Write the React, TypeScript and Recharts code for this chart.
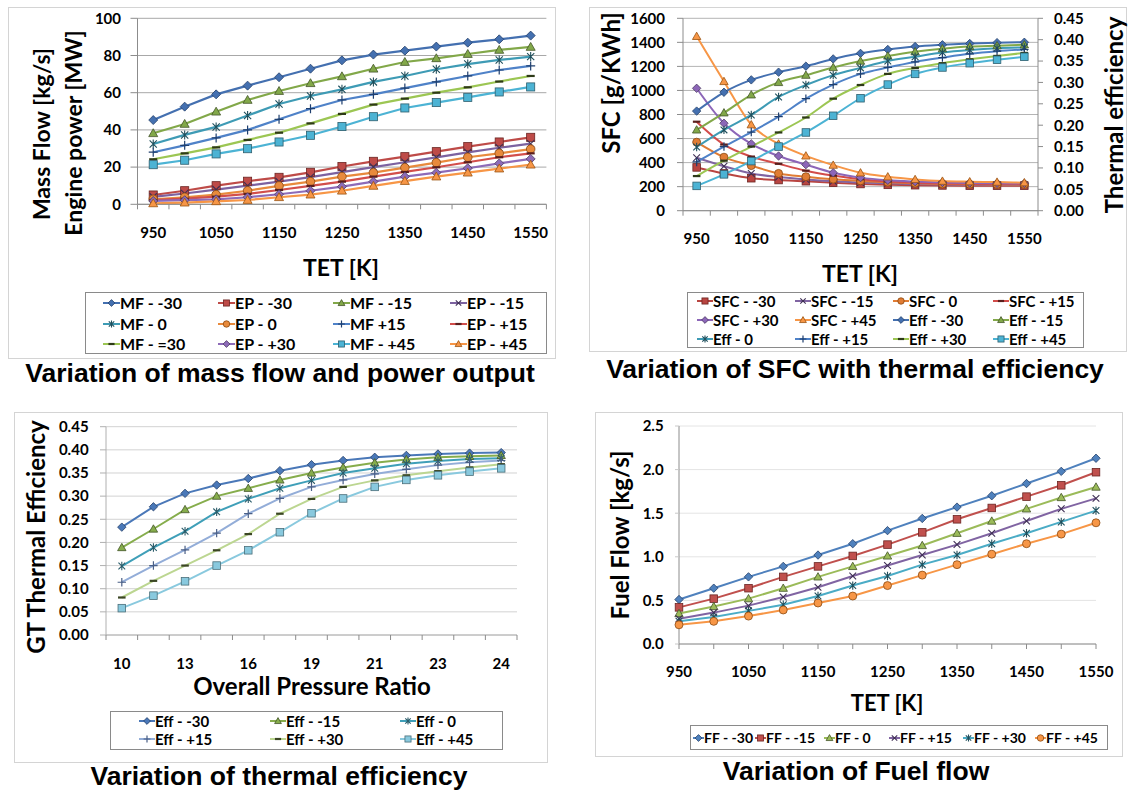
import React from "react";
import { LineChart, Line, XAxis, YAxis, CartesianGrid } from "recharts";

// ---- categories ----
const tet = [950, 1000, 1050, 1100, 1150, 1200, 1250, 1300, 1350, 1400, 1450, 1500, 1550];
const pressureRatio = ["10", "11.5", "13", "14.5", "16", "17.5", "19", "20", "21", "22", "23", "23.5", "24"];

// ---- mass flow [kg/s] and engine power [MW] ----
const mfM30 = [45.3, 52.5, 59.1, 63.8, 68.3, 72.9, 77.4, 80.5, 82.6, 84.8, 86.9, 88.7, 90.7];
const epM30 = [5.0, 7.3, 10.0, 12.4, 14.5, 17.2, 20.3, 23.1, 25.6, 28.3, 31.0, 33.5, 36.0];
const mfM15 = [38.2, 43.2, 49.8, 56.1, 60.9, 65.1, 68.8, 72.9, 76.5, 78.5, 80.8, 83.0, 84.6];
const epM15 = [4.0, 5.8, 7.9, 10.0, 12.2, 14.6, 17.3, 20.0, 22.6, 25.2, 27.9, 30.4, 32.6];
const mf0 = [32.4, 37.3, 41.6, 47.7, 53.9, 58.2, 61.8, 65.8, 69.0, 72.6, 75.4, 77.6, 79.4];
const ep0 = [2.7, 3.8, 5.2, 7.3, 9.9, 12.2, 14.9, 17.0, 19.7, 22.4, 25.3, 27.4, 29.7];
const mfP15 = [28.0, 31.7, 35.7, 40.0, 45.7, 51.4, 56.1, 59.1, 62.5, 65.8, 69.0, 72.2, 74.4];
const epP15 = [2.3, 3.0, 4.1, 5.6, 7.7, 9.9, 12.2, 14.9, 17.4, 19.9, 22.6, 25.3, 27.4];
const mfP30 = [24.2, 27.4, 30.6, 34.6, 38.5, 43.5, 48.6, 53.6, 56.8, 60.0, 62.9, 66.0, 69.0];
const epP30 = [1.8, 2.2, 2.7, 3.8, 5.4, 7.3, 9.5, 12.2, 14.9, 17.0, 19.4, 22.0, 24.4];
const mfP45 = [21.3, 23.7, 27.1, 29.9, 33.5, 37.1, 41.8, 47.1, 51.8, 54.7, 57.5, 60.4, 63.1];
const epP45 = [0.5, 0.9, 1.6, 2.3, 3.8, 5.2, 7.3, 9.9, 12.5, 14.9, 17.0, 19.2, 21.3];

// ---- SFC [g/kWh] ----
const sfcM30 = [360, 310, 270, 255, 245, 232, 222, 215, 212, 210, 208, 208, 208];
const sfcM15 = [440, 370, 310, 280, 260, 245, 235, 228, 222, 218, 216, 215, 215];
const sfc0 = [570, 445, 375, 310, 283, 262, 248, 237, 228, 222, 220, 218, 218];
const sfcP15 = [740, 550, 450, 390, 333, 292, 262, 243, 233, 227, 224, 222, 222];
const sfcP30 = [1018, 727, 556, 455, 383, 316, 275, 253, 242, 235, 230, 228, 227];
const sfcP45 = [1450, 1075, 715, 555, 456, 379, 315, 282, 260, 246, 241, 238, 233];

// ---- thermal efficiency ----
const effM30 = [0.233, 0.277, 0.306, 0.324, 0.338, 0.355, 0.368, 0.377, 0.384, 0.388, 0.391, 0.393, 0.394];
const effM15 = [0.189, 0.229, 0.271, 0.3, 0.317, 0.335, 0.35, 0.362, 0.372, 0.379, 0.384, 0.386, 0.388];
const eff0 = [0.149, 0.189, 0.224, 0.266, 0.294, 0.317, 0.334, 0.35, 0.36, 0.37, 0.376, 0.38, 0.382];
const effP15 = [0.114, 0.15, 0.184, 0.22, 0.262, 0.295, 0.32, 0.335, 0.348, 0.358, 0.367, 0.373, 0.377];
const effP30 = [0.081, 0.117, 0.15, 0.183, 0.218, 0.262, 0.294, 0.32, 0.334, 0.345, 0.354, 0.362, 0.369];
const effP45 = [0.058, 0.085, 0.116, 0.15, 0.183, 0.222, 0.263, 0.295, 0.32, 0.335, 0.345, 0.353, 0.36];

// ---- fuel flow [kg/s] ----
const ffM30 = [0.51, 0.64, 0.77, 0.89, 1.02, 1.15, 1.3, 1.44, 1.57, 1.7, 1.84, 1.98, 2.13];
const ffM15 = [0.42, 0.52, 0.64, 0.77, 0.89, 1.01, 1.14, 1.28, 1.43, 1.56, 1.69, 1.82, 1.97];
const ff0 = [0.35, 0.43, 0.52, 0.64, 0.77, 0.89, 1.01, 1.13, 1.27, 1.41, 1.55, 1.68, 1.8];
const ffP15 = [0.29, 0.36, 0.44, 0.54, 0.65, 0.78, 0.9, 1.02, 1.14, 1.27, 1.41, 1.55, 1.67];
const ffP30 = [0.26, 0.31, 0.38, 0.45, 0.55, 0.67, 0.78, 0.91, 1.02, 1.15, 1.27, 1.4, 1.53];
const ffP45 = [0.22, 0.26, 0.32, 0.39, 0.47, 0.55, 0.67, 0.79, 0.91, 1.03, 1.15, 1.26, 1.39];

// ---- axis ticks ----
const ticks1 = [0, 20, 40, 60, 80, 100];
const ticksSfc = [0, 200, 400, 600, 800, 1000, 1200, 1400, 1600];
const ticksEff = [0, 0.05, 0.1, 0.15, 0.2, 0.25, 0.3, 0.35, 0.4, 0.45];
const ticksFf = [0, 0.5, 1, 1.5, 2, 2.5];

type Shape = "diamond" | "square" | "triangle" | "x" | "star" | "circle" | "plus" | "dash";
type Series = { key: string; name: string; values: number[]; color: string; edge: string; shape: Shape; axis?: string };

const FONT = "Lato, 'Open Sans', sans-serif";
const TITLE_FONT = "'Liberation Sans', Arial, sans-serif";
const AXIS = "#8c8c8c";

const mfSeries: Series[] = [
  { key: "mfM30", name: "MF - -30", values: mfM30, color: "#4470b0", edge: "#24406a", shape: "diamond" },
  { key: "epM30", name: "EP - -30", values: epM30, color: "#be4b48", edge: "#6b2522", shape: "square" },
  { key: "mfM15", name: "MF - -15", values: mfM15, color: "#82a849", edge: "#44562a", shape: "triangle" },
  { key: "epM15", name: "EP - -15", values: epM15, color: "#7c62a0", edge: "#3f2f55", shape: "x" },
  { key: "mf0", name: "MF - 0", values: mf0, color: "#3e9bb5", edge: "#1f4f5c", shape: "star" },
  { key: "ep0", name: "EP - 0", values: ep0, color: "#e88a3c", edge: "#8b4a12", shape: "circle" },
  { key: "mfP15", name: "MF +15", values: mfP15, color: "#4f82c8", edge: "#1f3f6e", shape: "plus" },
  { key: "epP15", name: "EP - +15", values: epP15, color: "#d24e4b", edge: "#5a1e1c", shape: "dash" },
  { key: "mfP30", name: "MF - =30", values: mfP30, color: "#9cc653", edge: "#2e3a18", shape: "dash" },
  { key: "epP30", name: "EP - +30", values: epP30, color: "#8d6bb8", edge: "#4d3b62", shape: "diamond" },
  { key: "mfP45", name: "MF - +45", values: mfP45, color: "#4cb3d4", edge: "#2f5f6e", shape: "square" },
  { key: "epP45", name: "EP - +45", values: epP45, color: "#f79646", edge: "#9a5310", shape: "triangle" },
];

const sfcSeries: Series[] = [
  { key: "sfcM30", name: "SFC - -30", values: sfcM30, color: "#b94541", edge: "#6b2522", shape: "square", axis: "l" },
  { key: "sfcM15", name: "SFC - -15", values: sfcM15, color: "#8064a2", edge: "#3f2f55", shape: "x", axis: "l" },
  { key: "sfc0", name: "SFC - 0", values: sfc0, color: "#e07c34", edge: "#8b4a12", shape: "circle", axis: "l" },
  { key: "sfcP15", name: "SFC - +15", values: sfcP15, color: "#d24c4a", edge: "#5a1e1c", shape: "dash", axis: "l" },
  { key: "sfcP30", name: "SFC - +30", values: sfcP30, color: "#8c66b8", edge: "#4d3b62", shape: "diamond", axis: "l" },
  { key: "sfcP45", name: "SFC - +45", values: sfcP45, color: "#f79646", edge: "#9a5310", shape: "triangle", axis: "l" },
  { key: "effM30", name: "Eff - -30", values: effM30, color: "#4470b0", edge: "#24406a", shape: "diamond", axis: "r" },
  { key: "effM15", name: "Eff - -15", values: effM15, color: "#82a849", edge: "#44562a", shape: "triangle", axis: "r" },
  { key: "eff0", name: "Eff - 0", values: eff0, color: "#3e9bb5", edge: "#1f4f5c", shape: "star", axis: "r" },
  { key: "effP15", name: "Eff - +15", values: effP15, color: "#4f82c8", edge: "#1f3f6e", shape: "plus", axis: "r" },
  { key: "effP30", name: "Eff - +30", values: effP30, color: "#9cc653", edge: "#2e3a18", shape: "dash", axis: "r" },
  { key: "effP45", name: "Eff - +45", values: effP45, color: "#4cb3d4", edge: "#2f5f6e", shape: "square", axis: "r" },
];

const effSeries: Series[] = [
  { key: "effM30", name: "Eff - -30", values: effM30, color: "#4a78b8", edge: "#24406a", shape: "diamond" },
  { key: "effM15", name: "Eff - -15", values: effM15, color: "#86ad4c", edge: "#44562a", shape: "triangle" },
  { key: "eff0", name: "Eff - 0", values: eff0, color: "#3f9fb8", edge: "#2a5c6a", shape: "star" },
  { key: "effP15", name: "Eff - +15", values: effP15, color: "#93add8", edge: "#4a5f86", shape: "plus" },
  { key: "effP30", name: "Eff - +30", values: effP30, color: "#bcd691", edge: "#3b4624", shape: "dash" },
  { key: "effP45", name: "Eff - +45", values: effP45, color: "#89c9de", edge: "#4a6f7a", shape: "square" },
];

const ffSeries: Series[] = [
  { key: "ffM30", name: "FF - -30", values: ffM30, color: "#4f81bd", edge: "#24406a", shape: "diamond" },
  { key: "ffM15", name: "FF - -15", values: ffM15, color: "#c0504d", edge: "#6b2522", shape: "square" },
  { key: "ff0", name: "FF - 0", values: ff0, color: "#9bbb59", edge: "#44562a", shape: "triangle" },
  { key: "ffP15", name: "FF - +15", values: ffP15, color: "#8064a2", edge: "#3f2f55", shape: "x" },
  { key: "ffP30", name: "FF - +30", values: ffP30, color: "#4bacc6", edge: "#1f4f5c", shape: "star" },
  { key: "ffP45", name: "FF - +45", values: ffP45, color: "#f79646", edge: "#8b4a12", shape: "circle" },
];

const buildRows = (cats: (string | number)[], series: Series[]) =>
  cats.map((c, i) => {
    const row: Record<string, string | number> = { cat: c };
    series.forEach((s) => (row[s.key] = s.values[i]));
    return row;
  });

const rows1 = buildRows(tet, mfSeries);
const rows2 = buildRows(tet, sfcSeries);
const rows3 = buildRows(pressureRatio, effSeries);
const rows4 = buildRows(tet, ffSeries);

function Marker({ shape, cx, cy, color, edge, s }: { shape: Shape; cx: number; cy: number; color: string; edge: string; s: number }) {
  const sw = 0.8;
  switch (shape) {
    case "diamond":
      return <polygon points={`${cx},${cy - s} ${cx + s},${cy} ${cx},${cy + s} ${cx - s},${cy}`} fill={color} stroke={edge} strokeWidth={sw} />;
    case "square":
      return <rect x={cx - s * 0.9} y={cy - s * 0.9} width={s * 1.8} height={s * 1.8} fill={color} stroke={edge} strokeWidth={sw} />;
    case "triangle":
      return <polygon points={`${cx},${cy - s} ${cx + s},${cy + s * 0.75} ${cx - s},${cy + s * 0.75}`} fill={color} stroke={edge} strokeWidth={sw} />;
    case "circle":
      return <circle cx={cx} cy={cy} r={s * 0.95} fill={color} stroke={edge} strokeWidth={sw} />;
    case "x": {
      const d = s * 0.8;
      return <path d={`M${cx - d},${cy - d}L${cx + d},${cy + d}M${cx + d},${cy - d}L${cx - d},${cy + d}`} stroke={edge} strokeWidth={1.1} />;
    }
    case "star": {
      const d = s * 0.8;
      return <path d={`M${cx - d},${cy - d}L${cx + d},${cy + d}M${cx + d},${cy - d}L${cx - d},${cy + d}M${cx},${cy - s}L${cx},${cy + s}`} stroke={edge} strokeWidth={1.1} />;
    }
    case "plus":
      return <path d={`M${cx - s},${cy}L${cx + s},${cy}M${cx},${cy - s}L${cx},${cy + s}`} stroke={edge} strokeWidth={1.2} />;
    case "dash":
      return <path d={`M${cx - s * 0.9},${cy}L${cx + s * 0.9},${cy}`} stroke={edge} strokeWidth={2.2} />;
  }
  return null;
}

const dotFor = (sr: Series, s = 4.5) => (p: any) =>
  p.cx == null || p.cy == null ? (
    <g key={`${sr.key}-${p.index}`} />
  ) : (
    <g key={`${sr.key}-${p.index}`}>
      <Marker shape={sr.shape} cx={p.cx} cy={p.cy} color={sr.color} edge={sr.edge} s={s} />
    </g>
  );

// category axis with tick marks between categories, label on every other one
const betweenTick = (band: number, count: number, dy: number, fontSize: number) => (p: any) => {
  const { x, y, payload, index } = p;
  const h = band / 2;
  return (
    <g key={`t-${index}`}>
      <line x1={x - h} x2={x - h} y1={y} y2={y + 5} stroke={AXIS} />
      {index === count - 1 && <line x1={x + h} x2={x + h} y1={y} y2={y + 5} stroke={AXIS} />}
      {index % 2 === 0 && (
        <text x={x} y={y + dy} textAnchor="middle" dominantBaseline="central" fontFamily={FONT} fontWeight={700} fontSize={fontSize} fill="#000">
          {payload.value}
        </text>
      )}
    </g>
  );
};

const onTick = (dy: number, fontSize: number) => (p: any) => {
  const { x, y, payload, index } = p;
  return (
    <g key={`t-${index}`}>
      <line x1={x} x2={x} y1={y} y2={y + 5} stroke={AXIS} />
      {index % 2 === 0 && (
        <text x={x} y={y + dy} textAnchor="middle" dominantBaseline="central" fontFamily={FONT} fontWeight={700} fontSize={fontSize} fill="#000">
          {payload.value}
        </text>
      )}
    </g>
  );
};

const yTick = (fontSize: number) => ({ fontSize, fontWeight: 700, fill: "#000", fontFamily: FONT });

function Abs({ x, y, rotate, size, font = FONT, children }: { x: number; y: number; rotate?: boolean; size: number; font?: string; children: React.ReactNode }) {
  return (
    <div
      style={{
        position: "absolute",
        left: x,
        top: y,
        transform: `translate(-50%, -50%)${rotate ? " rotate(-90deg)" : ""}`,
        whiteSpace: "nowrap",
        fontFamily: font,
        fontWeight: 700,
        fontSize: size,
        lineHeight: 1,
        color: "#000",
      }}
    >
      {children}
    </div>
  );
}

function Frame({ x, y, w, h, color = "#d4d4d4" }: { x: number; y: number; w: number; h: number; color?: string }) {
  return <div style={{ position: "absolute", left: x, top: y, width: w, height: h, border: `1px solid ${color}`, boxSizing: "border-box" }} />;
}

function LegendItem({ s, x, y, lineLen, fontSize }: { s: Series; x: number; y: number; lineLen: number; fontSize: number }) {
  return (
    <div style={{ position: "absolute", left: x, top: y - 10, height: 20, display: "flex", alignItems: "center", whiteSpace: "nowrap" }}>
      <svg width={lineLen} height={12} style={{ display: "block" }}>
        <line x1={0} x2={lineLen} y1={6} y2={6} stroke={s.color} strokeWidth={2} />
        <Marker shape={s.shape} cx={lineLen / 2} cy={6} color={s.color} edge={s.edge} s={3.4} />
      </svg>
      <span style={{ fontFamily: FONT, fontWeight: 700, fontSize, lineHeight: 1, color: "#000" }}>{s.name}</span>
    </div>
  );
}

function GridLegend({ series, cols, rows, lineLen, fontSize }: { series: Series[]; cols: number[]; rows: number[]; lineLen: number; fontSize: number }) {
  return (
    <>
      {series.map((s, i) => (
        <LegendItem key={s.key} s={s} x={cols[i % cols.length]} y={rows[Math.floor(i / cols.length)]} lineLen={lineLen} fontSize={fontSize} />
      ))}
    </>
  );
}

function LegendBox({ x, y, w, h }: { x: number; y: number; w: number; h: number }) {
  return <div style={{ position: "absolute", left: x, top: y, width: w, height: h, border: "1px solid #8a8a8a", boxSizing: "border-box", background: "#fff" }} />;
}

// ---- chart geometry ----
const G1 = { W: 560, H: 240, top: 18.3, right: 13.6, bottom: 5.7, yw: 137.5, xh: 30 };
const band1 = (G1.W - G1.right - G1.yw) / tet.length;
const G2 = { W: 570, H: 250, top: 18.3, bottom: 9.3, yl: 123, yr: 92, xh: 30 };
const band2 = (G2.W - G2.yl - G2.yr) / tet.length;
const G3 = { W: 560, H: 290, top: 26.7, right: 43, bottom: 25, yw: 106, xh: 30 };
const band3 = (G3.W - G3.right - G3.yw) / pressureRatio.length;
const G4 = { W: 570, H: 290, top: 26, right: 34, bottom: 16, yw: 119, xh: 30 };

function Chart1() {
  return (
    <div style={{ position: "absolute", left: 0, top: 0 }}>
      <LineChart width={G1.W} height={G1.H} data={rows1} margin={{ top: G1.top, right: G1.right, bottom: G1.bottom, left: 0 }}>
        <CartesianGrid vertical={false} stroke="#a8a8a8" />
        <XAxis
          dataKey="cat"
          scale="point"
          interval={0}
          height={G1.xh}
          padding={{ left: band1 / 2, right: band1 / 2 }}
          axisLine={{ stroke: AXIS }}
          tickLine={false}
          tickSize={0}
          tickMargin={0}
          tick={betweenTick(band1, tet.length, 27.7, 15)}
        />
        <YAxis
          width={G1.yw}
          domain={[0, 100]}
          ticks={ticks1}
          interval={0}
          tick={yTick(15)}
          tickSize={7}
          tickMargin={9.5}
          tickLine={{ stroke: AXIS }}
          axisLine={{ stroke: AXIS }}
        />
        {mfSeries.map((s) => (
          <Line key={s.key} type="linear" dataKey={s.key} stroke={s.color} strokeWidth={2.2} dot={dotFor(s)} activeDot={false} isAnimationActive={false} />
        ))}
      </LineChart>
    </div>
  );
}

function Chart2() {
  return (
    <div style={{ position: "absolute", left: 560, top: 0 }}>
      <LineChart width={G2.W} height={G2.H} data={rows2} margin={{ top: G2.top, right: 0, bottom: G2.bottom, left: 0 }}>
        <CartesianGrid vertical={false} stroke="#b4b4b4" yAxisId="l" />
        <XAxis
          dataKey="cat"
          scale="point"
          interval={0}
          height={G2.xh}
          padding={{ left: band2 / 2, right: band2 / 2 }}
          axisLine={{ stroke: AXIS }}
          tickLine={false}
          tickSize={0}
          tickMargin={0}
          tick={betweenTick(band2, tet.length, 27.3, 15)}
        />
        <YAxis
          yAxisId="l"
          orientation="left"
          width={G2.yl}
          domain={[0, 1600]}
          ticks={ticksSfc}
          interval={0}
          tick={yTick(15)}
          tickSize={6}
          tickMargin={12}
          tickLine={{ stroke: AXIS }}
          axisLine={{ stroke: AXIS }}
        />
        <YAxis
          yAxisId="r"
          orientation="right"
          width={G2.yr}
          domain={[0, 0.45]}
          ticks={ticksEff}
          interval={0}
          tickFormatter={(v: number) => v.toFixed(2)}
          tick={yTick(15)}
          tickSize={5}
          tickMargin={11}
          tickLine={{ stroke: AXIS }}
          axisLine={{ stroke: AXIS }}
        />
        {sfcSeries.map((s) => (
          <Line key={s.key} yAxisId={s.axis} type="monotone" dataKey={s.key} stroke={s.color} strokeWidth={2} dot={dotFor(s, 4.2)} activeDot={false} isAnimationActive={false} />
        ))}
      </LineChart>
    </div>
  );
}

function Chart3() {
  return (
    <div style={{ position: "absolute", left: 0, top: 400 }}>
      <LineChart width={G3.W} height={G3.H} data={rows3} margin={{ top: G3.top, right: G3.right, bottom: G3.bottom, left: 0 }}>
        <CartesianGrid vertical={false} stroke="#d2d2d2" />
        <XAxis
          dataKey="cat"
          scale="point"
          interval={0}
          height={G3.xh}
          padding={{ left: band3 / 2, right: band3 / 2 }}
          axisLine={{ stroke: "#b0b0b0" }}
          tickLine={false}
          tickSize={0}
          tickMargin={0}
          tick={betweenTick(band3, pressureRatio.length, 28, 15)}
        />
        <YAxis
          width={G3.yw}
          domain={[0, 0.45]}
          ticks={ticksEff}
          interval={0}
          tickFormatter={(v: number) => v.toFixed(2)}
          tick={yTick(15)}
          tickSize={6}
          tickMargin={11.4}
          tickLine={{ stroke: "#b0b0b0" }}
          axisLine={{ stroke: "#b0b0b0" }}
        />
        {effSeries.map((s) => (
          <Line key={s.key} type="linear" dataKey={s.key} stroke={s.color} strokeWidth={2} dot={dotFor(s, 4.2)} activeDot={false} isAnimationActive={false} />
        ))}
      </LineChart>
    </div>
  );
}

function Chart4() {
  return (
    <div style={{ position: "absolute", left: 560, top: 400 }}>
      <LineChart width={G4.W} height={G4.H} data={rows4} margin={{ top: G4.top, right: G4.right, bottom: G4.bottom, left: 0 }}>
        <CartesianGrid vertical={false} stroke="#e4e4e4" />
        <XAxis
          dataKey="cat"
          scale="point"
          interval={0}
          height={G4.xh}
          padding={{ left: 0, right: 0 }}
          axisLine={{ stroke: AXIS }}
          tickLine={false}
          tickSize={0}
          tickMargin={0}
          tick={onTick(26.7, 15)}
        />
        <YAxis
          width={G4.yw}
          domain={[0, 2.5]}
          ticks={ticksFf}
          interval={0}
          tickFormatter={(v: number) => v.toFixed(1)}
          tick={yTick(15)}
          tickSize={4}
          tickMargin={11.4}
          tickLine={{ stroke: "#c8c8c8" }}
          axisLine={{ stroke: AXIS }}
        />
        {ffSeries.map((s) => (
          <Line key={s.key} type="linear" dataKey={s.key} stroke={s.color} strokeWidth={2} dot={dotFor(s, 4.2)} activeDot={false} isAnimationActive={false} />
        ))}
      </LineChart>
    </div>
  );
}

export default function App() {
  return (
    <div style={{ position: "relative", width: 1130, height: 791, background: "#fff", overflow: "hidden" }}>
      <style>{"body{margin:0;background:#fff}"}</style>

      <Frame x={8} y={7} w={548} h={352} />
      <Frame x={589} y={7} w={538} h={345} />
      <Frame x={14} y={412} w={534} h={351} />
      <Frame x={595} y={412} w={528} h={345} />

      <Chart1 />
      <Chart2 />
      <Chart3 />
      <Chart4 />

      {/* axis titles */}
      <Abs x={41} y={134} rotate size={23}>Mass Flow [kg/s]</Abs>
      <Abs x={73} y={133} rotate size={23}>Engine power [MW]</Abs>
      <Abs x={341} y={267} size={23}>TET [K]</Abs>

      <Abs x={611} y={83} rotate size={24}>SFC [g/KWh]</Abs>
      <Abs x={1114} y={115} rotate size={24}>Thermal efficiency</Abs>
      <Abs x={860} y={273} size={23}>TET [K]</Abs>

      <Abs x={36} y={537} rotate size={24}>GT Thermal Efficiency</Abs>
      <Abs x={312} y={686} size={24}>Overall Pressure Ratio</Abs>

      <Abs x={620} y={535} rotate size={24}>Fuel Flow [kg/s]</Abs>
      <Abs x={887} y={703} size={22}>TET [K]</Abs>

      {/* legends */}
      <LegendBox x={85} y={292} w={462} h={62} />
      <GridLegend series={mfSeries} cols={[103, 218, 333, 450]} rows={[303, 324, 344]} lineLen={17} fontSize={16} />

      <LegendBox x={687} y={292} w={397} h={56} />
      <GridLegend series={sfcSeries} cols={[697, 795, 893, 993]} rows={[301, 320, 339]} lineLen={16} fontSize={15} />

      <LegendBox x={110} y={711} w={393} h={39} />
      <GridLegend series={effSeries} cols={[139, 270, 400]} rows={[721, 739]} lineLen={16} fontSize={15} />

      <LegendBox x={690} y={725} w={418} h={25} />
      {ffSeries.map((s, i) => (
        <LegendItem key={s.key} s={s} x={[693, 755, 824, 889, 963, 1035][i]} y={738} lineLen={11} fontSize={14} />
      ))}

      {/* panel titles */}
      <Abs x={280} y={373} size={26.5} font={TITLE_FONT}>Variation of mass flow and power output</Abs>
      <Abs x={855} y={369} size={26.5} font={TITLE_FONT}>Variation of SFC with thermal efficiency</Abs>
      <Abs x={279} y={776} size={26.5} font={TITLE_FONT}>Variation of thermal efficiency</Abs>
      <Abs x={856} y={771} size={26.5} font={TITLE_FONT}>Variation of Fuel flow</Abs>
    </div>
  );
}
